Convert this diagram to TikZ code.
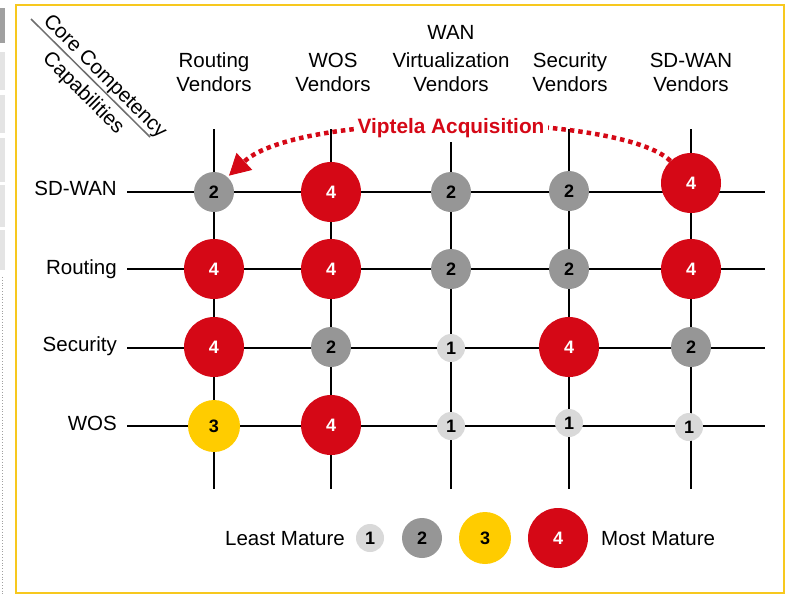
\documentclass[tikz,border=0pt]{standalone}
\usepackage{fontspec}
\setmainfont{Liberation Sans}
\usetikzlibrary{arrows.meta}
\definecolor{matred}{RGB}{213,8,22}
\definecolor{matgray}{RGB}{150,150,150}
\definecolor{matlight}{RGB}{217,217,217}
\definecolor{matyellow}{RGB}{255,204,0}
\definecolor{framecol}{RGB}{247,200,30}
\definecolor{diagcol}{RGB}{110,110,110}
\definecolor{stripdark}{RGB}{160,160,160}
\definecolor{striplight}{RGB}{228,228,228}
\begin{document}
\begin{tikzpicture}[x=1pt,y=-1pt,
  gridline/.style={line width=2.2pt,black},
  lvbase/.style={circle,inner sep=0pt,font=\fontsize{18}{18}\selectfont\bfseries,text=black},
  lvA/.style={lvbase,fill=matlight,minimum size=28pt},
  lvB/.style={lvbase,fill=matgray,minimum size=40pt},
  lvC/.style={lvbase,fill=matyellow,minimum size=52pt},
  lvD/.style={lvbase,fill=matred,minimum size=60pt,text=white},
  lbl/.style={font=\fontsize{20.5}{23.5}\selectfont,inner sep=0pt},
  diagline/.style={line width=1.5pt,diagcol},
  acqarrow/.style={matred,line width=4.5pt,dash pattern=on 4.5pt off 4pt,
    -{Triangle[length=21pt,width=23pt,line width=1pt]},shorten >=2pt},
  acqlabel/.style={font=\fontsize{20.8}{22}\selectfont\bfseries,text=matred,fill=white,inner sep=4pt}]
\useasboundingbox (0,0) rectangle (786,595);
\fill[white] (0,0) rectangle (786,595);
% left strip (thumbnails)
\fill[stripdark] (0,8) rectangle (5,43);
\fill[striplight] (0,52) rectangle (5,90);
\fill[striplight] (0,95) rectangle (5,133);
\fill[striplight] (0,138) rectangle (5,182);
\fill[striplight] (0,185) rectangle (5,227);
\fill[striplight] (0,230) rectangle (5,270);
\draw[stripdark,dotted,line width=0.8pt] (2.5,277) -- (2.5,595);
% frame
\draw[framecol,line width=1.6pt] (16,5) rectangle (784,593);
% grid
\foreach \yy/\nn in {192/rA,269/rB,348/rC,426/rD}{
  \coordinate (\nn L) at (127,\yy);
  \coordinate (\nn R) at (765,\yy);
  \draw[gridline] (\nn L) -- (\nn R);
}
\foreach \xx/\nn in {214/cA,331/cB,451/cC,569/cD,691/cE}{
  \coordinate (\nn T) at (\xx,129);
  \coordinate (\nn B) at (\xx,489);
  \draw[gridline] (\nn T) -- (\nn B);
}
% diagonal header
\coordinate (dgA) at (31,19);
\coordinate (dgB) at (150,137);
\draw[diagline] (dgA) -- (dgB);
\node[lbl,rotate=-45] (core) at (104.5,77) {Core Competency};
\node[lbl,rotate=-45] (capab) at (83,93.5) {Capabilities};
% column headers
\node[lbl,anchor=base] (hAa) at (214,67) {Routing};
\node[lbl,anchor=base] (hAb) at (214,91) {Vendors};
\node[lbl,anchor=base] (hBa) at (333,67) {WOS};
\node[lbl,anchor=base] (hBb) at (333,91) {Vendors};
\node[lbl,anchor=base] (hCa) at (451,39) {WAN};
\node[lbl,anchor=base] (hCb) at (451,67) {Virtualization};
\node[lbl,anchor=base] (hCc) at (451,91) {Vendors};
\node[lbl,anchor=base] (hDa) at (570,67) {Security};
\node[lbl,anchor=base] (hDb) at (570,91) {Vendors};
\node[lbl,anchor=base] (hEa) at (691,67) {SD-WAN};
\node[lbl,anchor=base] (hEb) at (691,91) {Vendors};
% row labels
\node[lbl,anchor=base east] (rlA) at (117,195.5) {SD-WAN};
\node[lbl,anchor=base east] (rlB) at (117,274.5) {Routing};
\node[lbl,anchor=base east] (rlC) at (117,351) {Security};
\node[lbl,anchor=base east] (rlD) at (117,430) {WOS};
% circles: SD-WAN
\node[lvB] (aAA) at (214,192) {2};
\node[lvD] (aAB) at (331,192) {4};
\node[lvB] (aAC) at (451,192) {2};
\node[lvB] (aAD) at (569,191) {2};
\node[lvD] (aAE) at (691,183) {4};
% Routing
\node[lvD] (aBA) at (214,269) {4};
\node[lvD] (aBB) at (331,269) {4};
\node[lvB] (aBC) at (451,269) {2};
\node[lvB] (aBD) at (569,269) {2};
\node[lvD] (aBE) at (691,269) {4};
% Security
\node[lvD] (aCA) at (214,347) {4};
\node[lvB] (aCB) at (331,347) {2};
\node[lvA] (aCC) at (451,348) {1};
\node[lvD] (aCD) at (569,347) {4};
\node[lvB] (aCE) at (691,347) {2};
% WOS
\node[lvC] (aDA) at (214,426) {3};
\node[lvD] (aDB) at (331,425) {4};
\node[lvA] (aDC) at (451,426) {1};
\node[lvA] (aDD) at (569,423) {1};
\node[lvA] (aDE) at (689,427) {1};
% acquisition arrow
\draw[acqarrow] (aAE.133) .. controls (620,112) and (300,110) .. (aAA.48);
\node[acqlabel] (vip) at (451,128) {Viptela Acquisition};
% legend
\node[lbl,anchor=base east] (lgL) at (345,545) {Least Mature};
\node[lvA] (lgA) at (370,538) {1};
\node[lvB] (lgB) at (422,538) {2};
\node[lvC] (lgC) at (485,538) {3};
\node[lvD] (lgD) at (558,538) {4};
\node[lbl,anchor=base west] (lgM) at (601,545) {Most Mature};
\end{tikzpicture}
\end{document}
